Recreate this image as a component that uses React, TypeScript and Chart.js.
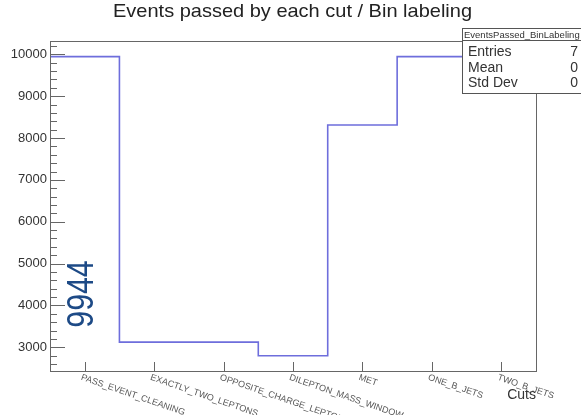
import React, { useEffect, useRef } from 'react';
import { Chart, registerables } from 'chart.js';

Chart.register(...registerables);

const TITLE = 'Events passed by each cut / Bin labeling';
const X_TITLE = 'Cuts';
const ANNOTATION = '9944';

const categories = [
  'PASS_EVENT_CLEANING',
  'EXACTLY_TWO_LEPTONS',
  'OPPOSITE_CHARGE_LEPTONS',
  'DILEPTON_MASS_WINDOW',
  'MET',
  'ONE_B_JETS',
  'TWO_B_JETS',
];
const values = [9944, 3125, 3125, 2800, 8310, 9944, 9944];

const yTicks = [3000, 4000, 5000, 6000, 7000, 8000, 9000, 10000];
const Y_MIN = 2434;
const Y_MAX = 10318;
const Y_MINOR_STEP = 200;

const statsName = 'EventsPassed_BinLabeling';
const statsLabels = ['Entries', 'Mean', 'Std Dev'];
const statsValues = ['7', '0', '0'];

const FONT = "'Liberation Sans', Arial, Helvetica, sans-serif";

const rootPlugin = {
  id: 'rootDecor',
  afterDraw(chart: any) {
    const ctx = chart.ctx as CanvasRenderingContext2D;
    const { left, right, top, bottom } = chart.chartArea;
    const xs = chart.scales.x;
    const ys = chart.scales.y;
    ctx.save();

    // frame
    ctx.strokeStyle = '#666';
    ctx.lineWidth = 1;
    ctx.strokeRect(left + 0.5, top + 0.5, right - left, bottom - top);

    // y ticks (major + minor), pointing inward
    ctx.beginPath();
    const start = Math.ceil(Y_MIN / Y_MINOR_STEP) * Y_MINOR_STEP;
    for (let v = start; v <= Y_MAX; v += Y_MINOR_STEP) {
      const y = Math.round(ys.getPixelForValue(v)) + 0.5;
      const len = v % 1000 === 0 ? 15 : 7;
      ctx.moveTo(left, y);
      ctx.lineTo(left + len, y);
    }
    // x ticks at bin centres
    categories.forEach((_, i) => {
      const x = Math.round(xs.getPixelForValue(i + 0.5)) + 0.5;
      ctx.moveTo(x, bottom);
      ctx.lineTo(x, bottom - 9);
    });
    ctx.stroke();

    // x labels, rotated clockwise, starting at tick
    ctx.fillStyle = '#555';
    ctx.font = `9px ${FONT}`;
    ctx.textAlign = 'left';
    ctx.textBaseline = 'top';
    categories.forEach((lab, i) => {
      const x = xs.getPixelForValue(i + 0.5);
      ctx.save();
      ctx.translate(x - 2, bottom + 2);
      ctx.rotate((19 * Math.PI) / 180);
      ctx.fillText(lab, 0, 0);
      ctx.restore();
    });

    // x axis title
    ctx.fillStyle = '#333';
    ctx.font = `14px ${FONT}`;
    ctx.textAlign = 'right';
    ctx.textBaseline = 'alphabetic';
    ctx.fillText(X_TITLE, right, 399);

    // annotation
    ctx.save();
    ctx.translate(81.5, 294);
    ctx.rotate(-Math.PI / 2);
    ctx.scale(0.82, 1);
    ctx.fillStyle = '#1d4a86';
    ctx.font = `37px ${FONT}`;
    ctx.textAlign = 'center';
    ctx.textBaseline = 'middle';
    ctx.fillText(ANNOTATION, 0, 1);
    ctx.restore();

    // stats box
    const bx = 462.5, by = 28.5, bw = 130, bh = 65;
    ctx.fillStyle = '#fff';
    ctx.fillRect(bx, by, bw, bh);
    ctx.strokeStyle = '#555';
    ctx.strokeRect(bx, by, bw, bh);
    ctx.beginPath();
    ctx.moveTo(bx, 40.5);
    ctx.lineTo(bx + bw, 40.5);
    ctx.stroke();
    ctx.fillStyle = '#333';
    ctx.font = `9.5px ${FONT}`;
    ctx.textAlign = 'left';
    ctx.textBaseline = 'middle';
    ctx.fillText(statsName, 464, 35);
    ctx.font = `14px ${FONT}`;
    statsLabels.forEach((lab, i) => {
      const y = 52.5 + i * 15.5;
      ctx.textAlign = 'left';
      ctx.fillText(lab, 468, y);
      ctx.textAlign = 'right';
      ctx.fillText(statsValues[i], 578, y);
    });

    // title (stretched to the reference width)
    ctx.fillStyle = '#222';
    ctx.font = `18.5px ${FONT}`;
    ctx.textAlign = 'center';
    ctx.textBaseline = 'alphabetic';
    const tw = ctx.measureText(TITLE).width;
    ctx.save();
    ctx.translate(292.5, 17);
    ctx.scale(359 / tw, 1);
    ctx.fillText(TITLE, 0, 0);
    ctx.restore();

    ctx.restore();
  },
};

export default function App() {
  const ref = useRef<HTMLCanvasElement | null>(null);

  useEffect(() => {
    if (!ref.current) return;
    const points = values.map((v, i) => ({ x: i, y: v }));
    points.push({ x: values.length, y: values[values.length - 1] });

    const chart = new Chart(ref.current, {
      type: 'line',
      data: {
        datasets: [
          {
            data: points,
            stepped: 'before',
            borderColor: 'rgb(110,110,220)',
            borderWidth: 1.6,
            pointRadius: 0,
            fill: false,
            tension: 0,
          },
        ],
      },
      options: {
        animation: false,
        responsive: false,
        devicePixelRatio: 1,
        layout: { padding: { left: 0, top: 41, right: 45, bottom: 44 } },
        plugins: {
          legend: { display: false },
          tooltip: { enabled: false },
          title: { display: false },
        },
        scales: {
          x: {
            type: 'linear',
            display: false,
            min: 0,
            max: categories.length,
          },
          y: {
            type: 'linear',
            min: Y_MIN,
            max: Y_MAX,
            grid: { display: false, drawTicks: false },
            border: { display: false },
            afterFit: (s: any) => {
              s.width = 50;
            },
            afterBuildTicks: (s: any) => {
              s.ticks = yTicks.map((v) => ({ value: v }));
            },
            ticks: {
              padding: 3,
              color: '#333',
              font: { size: 13, family: FONT },
              callback: (v: any) => String(v),
            },
          },
        },
      },
      plugins: [rootPlugin],
    } as any);

    return () => chart.destroy();
  }, []);

  return (
    <div style={{ position: 'absolute', left: 0, top: 0, width: 581, height: 415, background: '#fff' }}>
      <canvas ref={ref} width={581} height={415} style={{ display: 'block' }} />
    </div>
  );
}
